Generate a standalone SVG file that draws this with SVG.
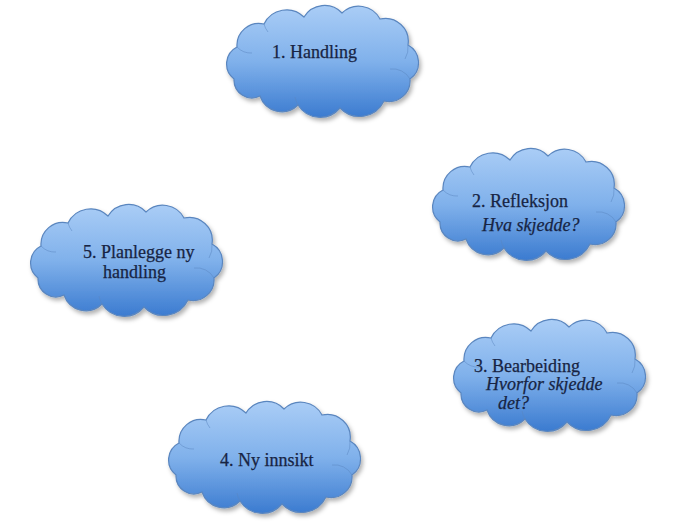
<svg xmlns="http://www.w3.org/2000/svg" width="673" height="526" viewBox="0 0 673 526">
<style>
.cloud{fill:url(#g);stroke:#5a86bf;stroke-width:1.2;filter:url(#sh)}
.inner{fill:none;stroke:#5a86bf;stroke-width:1;opacity:0.5}
.t{font-family:'Liberation Serif','DejaVu Serif',serif;font-size:18px;fill:#172443;stroke:#172443;stroke-width:0.25}
.i{font-style:italic}
</style>
<defs>
<linearGradient id="g" x1="0" y1="0" x2="0" y2="1">
<stop offset="0" stop-color="#aacdf6"/>
<stop offset="0.5" stop-color="#80b1eb"/>
<stop offset="1" stop-color="#3b7bd0"/>
</linearGradient>
<filter id="sh" x="-10%" y="-10%" width="125%" height="130%">
<feDropShadow dx="2" dy="3" stdDeviation="2" flood-color="#000" flood-opacity="0.3"/>
</filter>
<path id="c" d="M12,76 A19 19 0 0 1 15,44 A22 22 0 0 1 42,21 A25 25 0 0 1 82,14 A24 24 0 0 1 120,10 A24 24 0 0 1 158,16 A23 23 0 0 1 186,42 A20 20 0 0 1 188,76 A21 21 0 0 1 162,98 A27 27 0 0 1 118,105 A26 26 0 0 1 76,102 A23 23 0 0 1 38,93 A18 18 0 0 1 12,76 Z"/>
<g id="ci">
<path class="inner" d="M15,44 A19 19 0 0 0 30,50"/>
<path class="inner" d="M188,76 A20 20 0 0 0 168,66"/>
<path class="inner" d="M186,42 A23 23 0 0 1 183,56"/>
<path class="inner" d="M76,102 A26 26 0 0 1 73,94"/>
<path class="inner" d="M42,21 A22 22 0 0 0 46,29"/>
</g>
</defs>
<rect width="673" height="526" fill="#fff"/>
<g id="connectors"></g>
<g id="n1"><use href="#c" class="cloud" transform="translate(222,3)"/><use href="#ci" transform="translate(222,3)"/><text class="t" x="272" y="58">1. Handling</text></g>
<g id="n2"><use href="#c" class="cloud" transform="translate(428,146)"/><use href="#ci" transform="translate(428,146)"/><text class="t" x="472" y="207">2. Refleksjon</text><text class="t i" x="482" y="231">Hva skjedde?</text></g>
<g id="n3"><use href="#c" class="cloud" transform="translate(449,317)"/><use href="#ci" transform="translate(449,317)"/><text class="t" x="474" y="372">3. Bearbeiding</text><text class="t i" x="486" y="390">Hvorfor skjedde</text><text class="t i" x="498" y="409">det?</text></g>
<g id="n4"><use href="#c" class="cloud" transform="translate(164,399)"/><use href="#ci" transform="translate(164,399)"/><text class="t" x="220" y="466">4. Ny innsikt</text></g>
<g id="n5"><use href="#c" class="cloud" transform="translate(26,202)"/><use href="#ci" transform="translate(26,202)"/><text class="t" x="83" y="258">5. Planlegge ny</text><text class="t" x="103" y="278">handling</text></g>
</svg>
